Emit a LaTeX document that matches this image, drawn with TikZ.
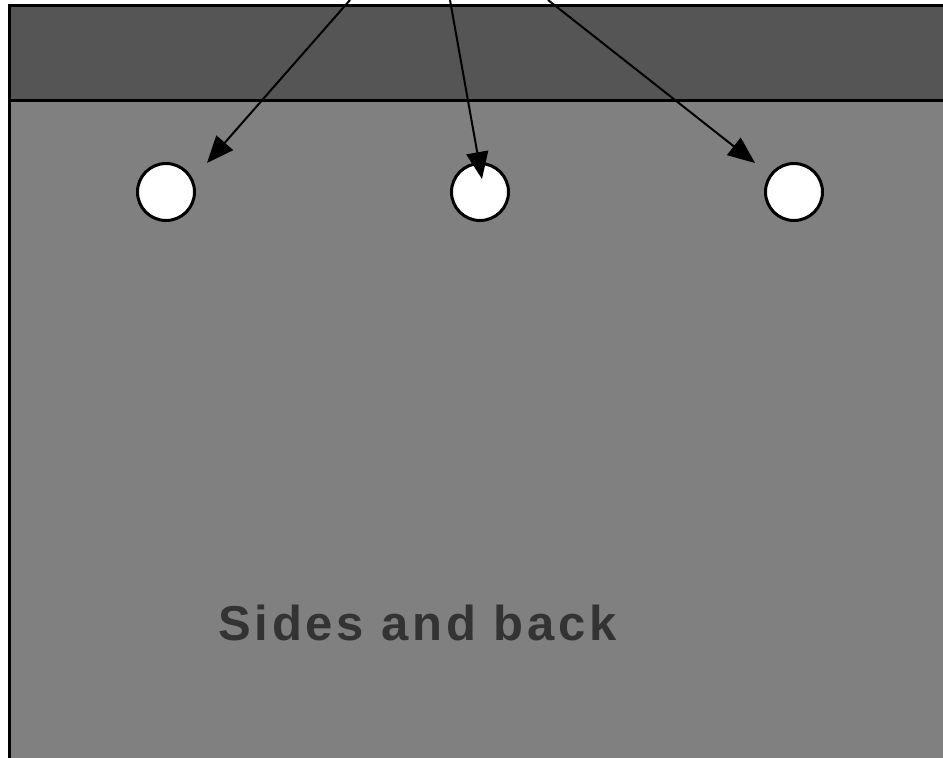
\documentclass[tikz,border=0pt]{standalone}
\usepackage{fontspec}
\newfontfamily\labelfont[LetterSpace=7.7]{Liberation Sans}
\usetikzlibrary{arrows.meta}
\definecolor{bandgray}{HTML}{555555}
\definecolor{bodygray}{HTML}{808080}
\definecolor{textgray}{HTML}{333333}
\tikzset{
  hole/.style={circle, draw=black, fill=white, line width=3pt, minimum size=57pt, inner sep=0pt},
  pointer/.style={draw=black, line width=2pt, -{Triangle[length=27pt,width=22pt]}},
  edge line/.style={draw=black, line width=3pt}
}
\begin{document}
\begin{tikzpicture}[x=1pt,y=-1pt]
\useasboundingbox (0,0) rectangle (943,758);
\clip (0,0) rectangle (943,758);
\fill[white] (0,0) rectangle (943,758);
% body and top band
\fill[bodygray] (9,5) rectangle (960,780);
\fill[bandgray] (9,5) rectangle (960,100);
\draw[edge line] (9,780) -- (9,5) -- (960,5);
\draw[edge line] (9,100) -- (960,100);
% holes
\node[hole] (h1) at (166,192) {};
\node[hole] (h2) at (480,192) {};
\node[hole] (h3) at (794,192) {};
% arrow ends
\coordinate (s1) at (350,0);
\coordinate (s2) at (450,0);
\coordinate (s3) at (548,0);
\coordinate (t1) at (207,163);
\coordinate (t2) at (482,179);
\coordinate (t3) at (755,163);
\draw[pointer] (s1) -- (t1);
\draw[pointer] (s2) -- (t2);
\draw[pointer] (s3) -- (t3);
% label
\node[anchor=base west, inner sep=0pt, text=textgray, font=\labelfont\bfseries\fontsize{49}{55}\selectfont] (lbl) at (218,640) {Sides and back};
\end{tikzpicture}
\end{document}
